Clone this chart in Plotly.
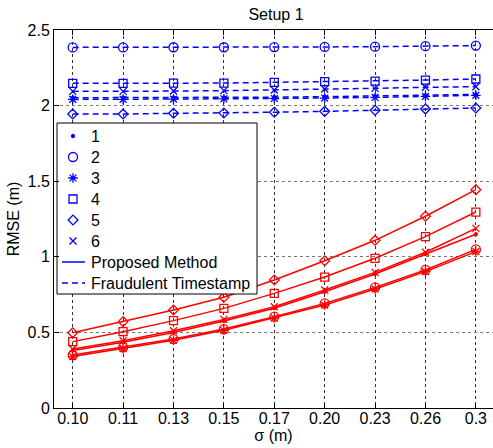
import plotly.graph_objects as go

sigma_labels = ["0.10", "0.11", "0.13", "0.15", "0.17", "0.20", "0.23", "0.26", "0.3"]
series_names = ["1", "2", "3", "4", "5", "6"]
method_names = ["Proposed Method", "Fraudulent Timestamp"]

# Proposed Method (red, solid)
proposed_1 = [0.380, 0.435, 0.500, 0.575, 0.660, 0.769, 0.886, 1.018, 1.149]
proposed_2 = [0.350, 0.401, 0.456, 0.522, 0.604, 0.692, 0.798, 0.913, 1.049]
proposed_3 = [0.340, 0.392, 0.448, 0.514, 0.595, 0.681, 0.787, 0.902, 1.034]
proposed_4 = [0.439, 0.505, 0.578, 0.659, 0.758, 0.866, 0.990, 1.133, 1.296]
proposed_5 = [0.498, 0.571, 0.648, 0.732, 0.847, 0.974, 1.109, 1.268, 1.444]
proposed_6 = [0.390, 0.445, 0.511, 0.586, 0.670, 0.780, 0.897, 1.030, 1.188]

# Fraudulent Timestamp (blue, dashed)
fraud_1 = [2.052, 2.052, 2.053, 2.054, 2.056, 2.059, 2.063, 2.068, 2.074]
fraud_2 = [2.385, 2.385, 2.386, 2.386, 2.387, 2.388, 2.390, 2.393, 2.397]
fraud_3 = [2.041, 2.041, 2.043, 2.045, 2.047, 2.050, 2.054, 2.061, 2.068]
fraud_4 = [2.147, 2.147, 2.149, 2.149, 2.154, 2.158, 2.162, 2.169, 2.176]
fraud_5 = [1.944, 1.944, 1.949, 1.951, 1.956, 1.962, 1.969, 1.978, 1.984]
fraud_6 = [2.094, 2.094, 2.096, 2.099, 2.103, 2.110, 2.114, 2.121, 2.125]

proposed = [proposed_1, proposed_2, proposed_3, proposed_4, proposed_5, proposed_6]
fraud = [fraud_1, fraud_2, fraud_3, fraud_4, fraud_5, fraud_6]

symbols = ["circle", "circle-open", "asterisk-open", "square-open", "diamond-open", "x-thin-open"]
sizes = [3, 9, 8, 8, 7.5, 7]

BLUE = "#0000FF"
RED = "#FF0000"
FONT = "Liberation Sans, Arial, Helvetica, sans-serif"
DASH = "6px,4px"

W, H = 493, 448
ML, MR, MT, MB = 54, 0, 30, 40
PW, PH = W - ML - MR, H - MT - MB

x_idx = list(range(len(sigma_labels)))

fig = go.Figure()

for i in range(6):
    fig.add_trace(go.Scatter(
        x=x_idx, y=fraud[i], mode="lines+markers",
        line=dict(color=BLUE, width=1.5, dash=DASH),
        marker=dict(symbol=symbols[i], size=sizes[i], color=BLUE,
                    line=dict(color=BLUE, width=1.3)),
    ))
for i in range(6):
    fig.add_trace(go.Scatter(
        x=x_idx, y=proposed[i], mode="lines+markers",
        line=dict(color=RED, width=1.5),
        marker=dict(symbol=symbols[i], size=sizes[i], color=RED,
                    line=dict(color=RED, width=1.3)),
    ))

# ---- legend (MATLAB style), drawn in an overlay pixel frame of the plot area ----
LB_X0, LB_X1, LB_Y0, LB_Y1 = 3, 203, 93, 264     # box, px from plot-area top-left
ROW0, ROW_STEP = 106, 21
SYM_X, LINE_X0, LINE_X1, TEXT_X = 19, 8, 31, 34.7

fig.add_trace(go.Scatter(
    x=[LB_X0, LB_X1, LB_X1, LB_X0, LB_X0], y=[LB_Y0, LB_Y0, LB_Y1, LB_Y1, LB_Y0],
    xaxis="x2", yaxis="y2", mode="lines", fill="toself", fillcolor="white",
    line=dict(color="black", width=1), hoverinfo="skip",
))
labels = series_names + method_names
for i in range(6):
    fig.add_trace(go.Scatter(
        x=[SYM_X], y=[ROW0 + ROW_STEP * i], xaxis="x2", yaxis="y2", mode="markers",
        marker=dict(symbol=symbols[i], size=sizes[i], color=BLUE,
                    line=dict(color=BLUE, width=1.3)),
        hoverinfo="skip",
    ))
for j, dash in enumerate(["solid", DASH]):
    yy = ROW0 + ROW_STEP * (6 + j)
    fig.add_trace(go.Scatter(
        x=[LINE_X0, LINE_X1], y=[yy, yy], xaxis="x2", yaxis="y2", mode="lines",
        line=dict(color=BLUE, width=1.5, dash=dash), hoverinfo="skip",
    ))
for k, lab in enumerate(labels):
    fig.add_annotation(
        x=TEXT_X, y=ROW0 + ROW_STEP * k, xref="x2", yref="y2", text=lab,
        showarrow=False, xanchor="left", yanchor="middle",
        font=dict(size=16, color="black", family=FONT),
    )

fig.update_layout(
    width=W, height=H, showlegend=False,
    margin=dict(l=ML, r=MR, t=MT, b=MB, autoexpand=False),
    paper_bgcolor="white", plot_bgcolor="white",
    font=dict(family=FONT, size=16, color="black"),
    title=dict(text="Setup 1", x=276 / W, xanchor="center", y=1 - 14.5 / H,
               yanchor="middle", font=dict(size=16), automargin=False),
    xaxis=dict(
        range=[-0.371, 8.34], tickvals=x_idx, ticktext=sigma_labels,
        title=dict(text="σ (m)", font=dict(size=16), standoff=2),
        automargin=False, ticklabelstandoff=-4,
        showline=True, linecolor="black", linewidth=1, mirror="ticks",
        ticks="inside", ticklen=5, tickcolor="black",
        showgrid=True, gridcolor="#333", griddash="dot", gridwidth=1,
        zeroline=False, tickfont=dict(size=16),
    ),
    yaxis=dict(
        range=[0, 2.5], tickvals=[0, 0.5, 1, 1.5, 2, 2.5],
        ticktext=["0", "0.5", "1", "1.5", "2", "2.5"],
        title=dict(text="RMSE (m)", font=dict(size=16), standoff=3),
        automargin=False,
        showline=True, linecolor="black", linewidth=1, mirror=False,
        ticks="inside", ticklen=5, tickcolor="black",
        showgrid=True, gridcolor="#777", griddash="dot", gridwidth=1,
        zeroline=False, tickfont=dict(size=16),
    ),
    xaxis2=dict(overlaying="x", anchor="y2", range=[0, PW], visible=False, fixedrange=True),
    yaxis2=dict(overlaying="y", anchor="x2", range=[PH, 0], visible=False, fixedrange=True),
)

fig.write_html(
    "out.html",
    config={"displayModeBar": False},
    post_script="document.body.style.margin='0';document.body.style.overflow='hidden';",
)
